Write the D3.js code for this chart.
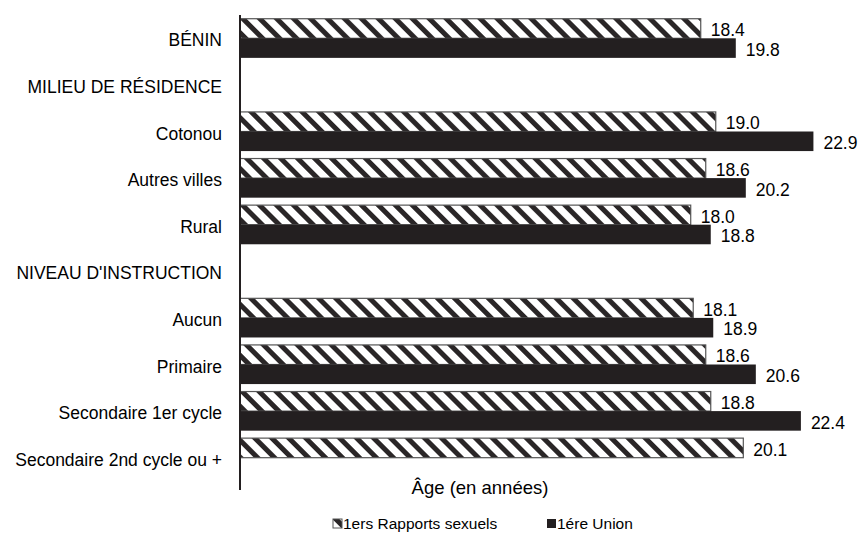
<!DOCTYPE html>
<html><head><meta charset="utf-8">
<script src="https://cdn.jsdelivr.net/npm/d3@7"></script>
<style>body{margin:0;background:#fff}svg{display:block}text{font-family:"Liberation Sans",Arial,sans-serif;fill:#000}</style>
</head><body><svg id="c" width="860" height="537"></svg>
<script>
const categories = ["BÉNIN","MILIEU DE RÉSIDENCE","Cotonou","Autres villes","Rural","NIVEAU D'INSTRUCTION","Aucun","Primaire","Secondaire 1er cycle","Secondaire 2nd cycle ou +"];
const seriesNames = ["1ers Rapports sexuels","1ére Union"];
const rapports = [18.4,null,19.0,18.6,18.0,null,18.1,18.6,18.8,20.1];
const union    = [19.8,null,22.9,20.2,18.8,null,18.9,20.6,22.4,null];
const axisTitle = "Âge (en années)";

const svg = d3.select("#c");
const defs = svg.append("defs");
const pat = defs.append("pattern").attr("id","hatch").attr("patternUnits","userSpaceOnUse")
  .attr("width",12).attr("height",12).attr("patternTransform","rotate(-45)");
pat.append("rect").attr("width",12).attr("height",12).attr("fill","#fff");
pat.append("rect").attr("x",0).attr("width",5).attr("height",12).attr("fill","#2a2627");

const x = d3.scaleLinear().domain([0,25]).range([240,240+25*25.04]);
const y = d3.scaleBand().domain(categories).range([15,481]).paddingInner(0.16).paddingOuter(0.08);
const sub = d3.scaleBand().domain([0,1]).range([0,y.bandwidth()]);

const data = categories.map((c,i)=>({c, v:[rapports[i],union[i]]}));
const fs = "17.5px";

const g = svg.append("g");
data.forEach(d=>{
  d.v.forEach((v,k)=>{
    if(v==null) return;
    const yy = y(d.c)+sub(k);
    g.append("rect").attr("x",x(0)).attr("y",yy).attr("width",x(v)-x(0)).attr("height",sub.bandwidth())
      .attr("fill", k===0?"url(#hatch)":"#231f20")
      .attr("stroke", k===0?"#555":"none").attr("stroke-width",1.2);
    g.append("text").attr("x",x(v)+10).attr("y",yy+sub.bandwidth()/2+1.5).attr("dy","0.35em")
      .style("font-size",fs).text(d3.format(".1f")(v));
  });
});

// category labels
svg.append("g").selectAll("text").data(categories).join("text")
  .attr("x",222).attr("y",d=>y(d)+y.bandwidth()/2+2).attr("dy","0.35em")
  .attr("text-anchor","end").style("font-size",fs).text(d=>d);

// axis line
svg.append("line").attr("x1",x(0)).attr("x2",x(0)).attr("y1",15).attr("y2",490)
  .attr("stroke","#231f20").attr("stroke-width",2);

svg.append("text").attr("x",480).attr("y",488).attr("dy","0.35em").attr("text-anchor","middle")
  .style("font-size","18.5px").text(axisTitle);

// legend
const lg = svg.append("g");
const lx = [333,547];
seriesNames.forEach((n,k)=>{
  lg.append("rect").attr("x",lx[k]).attr("y",519).attr("width",9).attr("height",9)
    .attr("fill",k===0?"url(#hatch)":"#231f20").attr("stroke",k===0?"#555":"none");
  lg.append("text").attr("x",lx[k]+10).attr("y",524).attr("dy","0.35em").style("font-size","15.5px").text(n);
});
</script></body></html>
